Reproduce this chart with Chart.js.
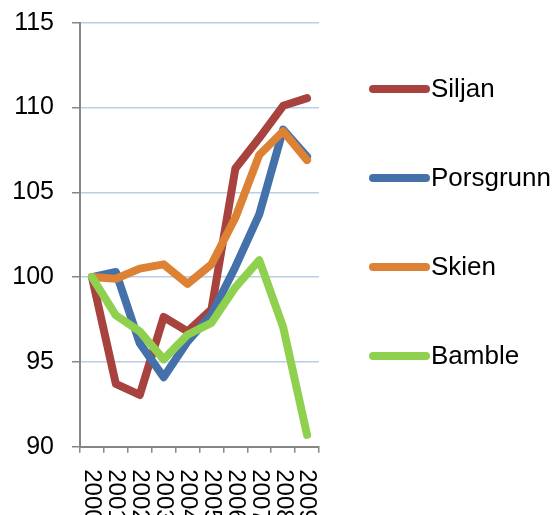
<!DOCTYPE html>
<html>
<head>
<meta charset="utf-8">
<script src="https://cdn.jsdelivr.net/npm/chart.js@4.4.1/dist/chart.umd.min.js"></script>
<style>
html,body{margin:0;padding:0;background:#fff;}
#c{display:block;}
</style>
</head>
<body>
<canvas id="c" width="554" height="515"></canvas>
<script>
const years = ['2000','2001','2002','2003','2004','2005','2006','2007','2008','2009'];
const seriesNames = ['Siljan','Porsgrunn','Skien','Bamble'];
const siljan    = [100, 93.7, 93.05, 97.65, 96.8, 98.1, 106.4, 108.2, 110.1, 110.55];
const porsgrunn = [100, 100.3, 96.1, 94.1, 96.2, 97.8, 100.6, 103.7, 108.7, 107.1];
const skien     = [100, 99.9, 100.5, 100.75, 99.6, 100.75, 103.5, 107.2, 108.6, 106.9];
const bamble    = [100, 97.75, 96.8, 95.15, 96.6, 97.3, 99.4, 101.0, 97.05, 90.7];
const yTicks = [90, 95, 100, 105, 110, 115];

const colors = ['#A8423F', '#4471AA', '#DD8235', '#8FD14F'];
const values = [siljan, porsgrunn, skien, bamble];
const FONT = "'Liberation Sans', Arial, sans-serif";

const datasets = seriesNames.map((n, i) => ({
  label: n,
  data: values[i],
  borderColor: colors[i],
  backgroundColor: colors[i],
  borderWidth: 8,
  borderJoinStyle: 'round',
  borderCapStyle: 'round',
  pointRadius: 0,
  tension: 0,
  fill: false,
  order: 4 - i
}));

const xLabelPlugin = {
  id: 'xlabels',
  afterDraw(chart) {
    const ctx = chart.ctx, xs = chart.scales.x, area = chart.chartArea;
    ctx.save();
    ctx.fillStyle = '#000';
    ctx.font = '24px ' + FONT;
    ctx.textAlign = 'left';
    ctx.textBaseline = 'middle';
    years.forEach((y, i) => {
      const x = xs.getPixelForValue(i);
      ctx.save();
      ctx.translate(x, area.bottom + 22.5);
      ctx.rotate(Math.PI / 2);
      ctx.fillText(y, 0, 0);
      ctx.restore();
    });
    ctx.restore();
  }
};

const legendPlugin = {
  id: 'customLegend',
  afterDraw(chart) {
    const ctx = chart.ctx;
    ctx.save();
    ctx.font = '26px ' + FONT;
    ctx.textAlign = 'left';
    ctx.textBaseline = 'middle';
    chart.data.datasets.forEach((ds, i) => {
      const y = 89 + i * 89;
      ctx.strokeStyle = ds.borderColor;
      ctx.lineWidth = 8;
      ctx.lineCap = 'round';
      ctx.beginPath();
      ctx.moveTo(373, y);
      ctx.lineTo(426, y);
      ctx.stroke();
      ctx.fillStyle = '#000';
      ctx.fillText(ds.label, 431, y + 1);
    });
    ctx.restore();
  }
};

new Chart(document.getElementById('c'), {
  type: 'line',
  data: { labels: years, datasets },
  options: {
    responsive: false,
    animation: false,
    devicePixelRatio: 1,
    layout: { padding: { left: 0, right: 235, top: 22.7, bottom: 0 } },
    plugins: { legend: { display: false }, tooltip: { enabled: false } },
    scales: {
      x: {
        offset: true,
        grid: { offset: true, drawOnChartArea: false, drawTicks: true, tickLength: 6, color: '#868686', lineWidth: 1.5 },
        border: { color: '#868686', width: 2 },
        ticks: { display: false },
        afterFit(s) { s.height = 68.3; s.paddingLeft = 0; s.paddingRight = 0; }
      },
      y: {
        min: 90, max: 115,
        afterBuildTicks(s) { s.ticks = yTicks.map(v => ({ value: v })); },
        ticks: { color: '#000', font: { size: 25, family: FONT }, padding: 18 },
        grid: { color: '#B9CDE5', lineWidth: 1.5, tickColor: '#868686', tickLength: 8 },
        border: { color: '#868686', width: 2 },
        afterFit(s) { s.width = 80; s.paddingTop = 0; s.paddingBottom = 0; }
      }
    }
  },
  plugins: [xLabelPlugin, legendPlugin]
});
</script>
</body>
</html>
